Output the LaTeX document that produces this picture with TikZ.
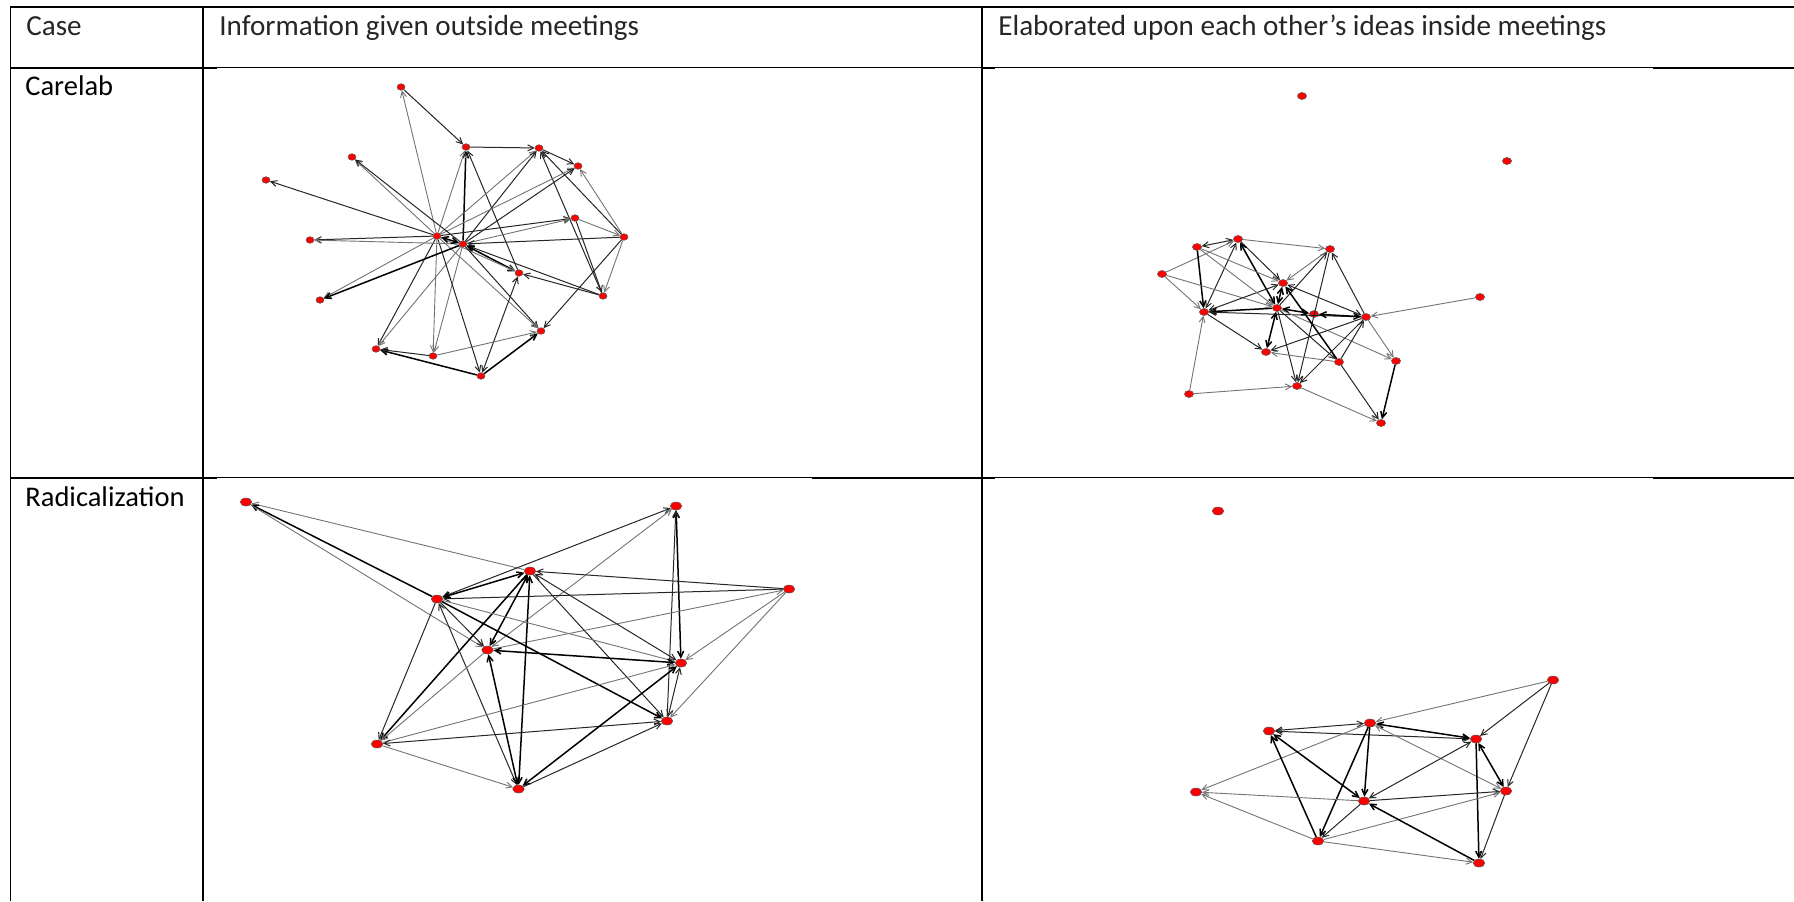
\documentclass[tikz,border=0pt]{standalone}
\usepackage{fontspec}
\setmainfont{Carlito}
\usetikzlibrary{shapes.geometric,arrows.meta}
\tikzset{
  rulethick/.style={line width=1pt,black},
  rulethin/.style={line width=0.5pt,black},
  rulev/.style={line width=0.85pt,black},
  hdr/.style={anchor=base west,inner sep=0pt,text=black!85,font=\fontsize{14.55pt}{17pt}\selectfont},
  rowlab/.style={anchor=base west,inner sep=0pt,text=black,font=\fontsize{14.25pt}{17pt}\selectfont},
  nd/.style={ellipse,fill=red,draw=black!65,line width=0.25pt,inner sep=0pt},
  ndA/.style={nd,minimum width=4pt,minimum height=3.3pt},
  ndB/.style={nd,minimum width=4.6pt,minimum height=3.5pt},
  ndC/.style={nd,minimum width=5.8pt,minimum height=4pt},
  edk/.style={->,draw=black!85,line width=0.5pt},
  edl/.style={->,draw=black!55,line width=0.45pt},
  edh/.style={->,draw=black,line width=0.75pt},
  bi/.style={<->}
}
\begin{document}
\begin{tikzpicture}[x=0.5pt,y=-0.5pt,>={Straight Barb[length=3pt,width=3pt]}]
\useasboundingbox (0,0) rectangle (1794,901);
% ---------- table rules ----------
\draw[rulethick] (10,7) -- (1794,7);
\draw[rulethick] (10,67.5) -- (217,67.5);
\draw[rulethin] (217,67) -- (686,67);
\draw[rulethin] (686,67) -- (982,67);
\draw[rulethick] (982,67.5) -- (995,67.5);
\draw[rulethin] (995,67) -- (1653,67);
\draw[rulethick] (1653,67.5) -- (1794,67.5);
\draw[rulethick] (10,477.5) -- (217,477.5);
\draw[rulethin] (217,477) -- (812,477);
\draw[rulethick] (812,477.5) -- (995,477.5);
\draw[rulethin] (995,477) -- (1653,477);
\draw[rulethick] (1653,477.5) -- (1794,477.5);
\draw[rulev] (10.5,6) -- (10.5,901);
\draw[rulev] (203,6) -- (203,901);
\draw[rulev] (982,6) -- (982,901);
% ---------- texts ----------
\node[hdr] (tcase) at (26,35) {Case};
\node[hdr] (tinfo) at (219,35) {Information given outside meetings};
\node[hdr] (telab) at (998,35) {Elaborated upon each other’s ideas inside meetings};
\node[rowlab] (tcare) at (25,95.5) {Carelab};
\node[rowlab] (trad) at (25,506.5) {Radicalization};
% ---------- panel 1 ----------
\node[ndA] (A) at (401,87) {};
\node[ndA] (B) at (466,147) {};
\node[ndA] (C) at (539,148) {};
\node[ndA] (D) at (578,166) {};
\node[ndA] (E) at (352,157) {};
\node[ndA] (F) at (266,180) {};
\node[ndA] (G) at (575,218) {};
\node[ndA] (H) at (624,237) {};
\node[ndA] (I) at (437,236) {};
\node[ndA] (J) at (463,244) {};
\node[ndA] (K) at (310,240) {};
\node[ndA] (L) at (519,273) {};
\node[ndA] (M) at (603,296) {};
\node[ndA] (N) at (320,300) {};
\node[ndA] (O) at (541,331) {};
\node[ndA] (P) at (376,349) {};
\node[ndA] (Q) at (433,356) {};
\node[ndA] (R) at (481,376) {};
\draw[edk] (A) -- (B);
\draw[edl] (I) -- (A);
\draw[edk] (B) -- (C);
\draw[edh] (J) -- (B);
\draw[edl] (I) -- (B);
\draw[edk] (L) -- (B);
\draw[edk] (C) -- (D);
\draw[edl] (I) -- (C);
\draw[edk] (J) -- (C);
\draw[edk] (H) -- (C);
\draw[edk] (M) -- (C);
\draw[edl] (I) -- (D);
\draw[edk] (J) -- (D);
\draw[edl] (H) -- (D);
\draw[edk] (I) -- (G);
\draw[edl] (J) -- (G);
\draw[edl] (G) -- (H);
\draw[edk] (G) -- (M);
\draw[edk] (H) -- (J);
\draw[edk] (H) -- (O);
\draw[edl] (H) -- (M);
\draw[edk] (M) -- (L);
\draw[edk] (M) -- (J);
\draw[edh,bi] (J) -- (L);
\draw[edl] (I) -- (L);
\draw[edk] (J) -- (O);
\draw[edl] (I) -- (O);
\draw[edk,bi] (L) -- (R);
\draw[edh] (R) -- (O);
\draw[edl] (Q) -- (O);
\draw[edh] (R) -- (P);
\draw[edk] (Q) -- (P);
\draw[edk] (I) -- (P);
\draw[edl] (J) -- (P);
\draw[edl] (I) -- (Q);
\draw[edl] (J) -- (Q);
\draw[edk] (I) -- (R);
\draw[edk] (I) -- (K);
\draw[edl] (J) -- (K);
\draw[edk] (I) -- (F);
\draw[edl] (I) -- (E);
\draw[edk] (J) -- (E);
\draw[edl] (I) -- (N);
\draw[edh] (J) -- (N);
\draw[edh,bi] (I) -- (J);
% ---------- panel 2 ----------
\node[ndB] (a) at (1302,96) {};
\node[ndB] (b) at (1507,161) {};
\node[ndB] (c) at (1238,239) {};
\node[ndB] (d) at (1197,247) {};
\node[ndB] (e) at (1330,249) {};
\node[ndB] (f) at (1162,274) {};
\node[ndB] (g) at (1283,283) {};
\node[ndB] (h) at (1480,297) {};
\node[ndB] (i) at (1204,312) {};
\node[ndB] (j) at (1277,308) {};
\node[ndB] (k) at (1314,314) {};
\node[ndB] (l) at (1366,317) {};
\node[ndB] (m) at (1266,352) {};
\node[ndB] (n) at (1339,362) {};
\node[ndB] (o) at (1396,361) {};
\node[ndB] (p) at (1189,394) {};
\node[ndB] (q) at (1297,386) {};
\node[ndB] (r) at (1381,423) {};
\draw[edk,bi] (c) -- (d);
\draw[edl] (f) -- (c);
\draw[edl] (c) -- (e);
\draw[edk,bi] (c) -- (i);
\draw[edk] (c) -- (g);
\draw[edh,bi] (c) -- (j);
\draw[edl] (d) -- (g);
\draw[edh] (d) -- (i);
\draw[edl] (f) -- (i);
\draw[edl] (f) -- (j);
\draw[edk,bi] (i) -- (g);
\draw[edh] (j) -- (i);
\draw[edk] (l) -- (i);
\draw[edk] (i) -- (m);
\draw[edl] (p) -- (i);
\draw[edl] (p) -- (q);
\draw[edh,bi] (j) -- (g);
\draw[edh,bi] (j) -- (m);
\draw[edk] (j) -- (q);
\draw[edk] (j) -- (e);
\draw[edl] (e) -- (g);
\draw[edk] (e) -- (q);
\draw[edk] (l) -- (e);
\draw[edk,bi] (g) -- (l);
\draw[edh,bi] (j) -- (k);
\draw[edh,bi] (k) -- (l);
\draw[edk] (j) -- (n);
\draw[edl] (j) -- (o);
\draw[edk] (l) -- (m);
\draw[edl] (n) -- (m);
\draw[edk] (l) -- (q);
\draw[edk] (n) -- (l);
\draw[edl] (l) -- (o);
\draw[edl] (h) -- (l);
\draw[edk] (n) -- (r);
\draw[edh] (o) -- (r);
\draw[edl] (q) -- (r);
\draw[edh] (n) -- (g);
\draw[edl] (d) -- (j);
% ---------- panel 3 ----------
\node[ndC] (s1) at (246,502) {};
\node[ndC] (s2) at (676,506) {};
\node[ndC] (s3) at (530,571) {};
\node[ndC] (s4) at (437,599) {};
\node[ndC] (s5) at (789,589) {};
\node[ndC] (s6) at (487.5,650) {};
\node[ndC] (s7) at (681,663) {};
\node[ndC] (s8) at (667,721) {};
\node[ndC] (s9) at (377,744) {};
\node[ndC] (s10) at (518.5,789) {};
\draw[edl] (s3) -- (s1);
\draw[edh] (s4) -- (s1);
\draw[edl] (s1) -- (s6);
\draw[edk,bi] (s4) -- (s2);
\draw[edl,bi] (s6) -- (s2);
\draw[edh,bi] (s7) -- (s2);
\draw[edk] (s8) -- (s2);
\draw[edk] (s5) -- (s3);
\draw[edk] (s5) -- (s4);
\draw[edl] (s6) -- (s5);
\draw[edl] (s5) -- (s7);
\draw[edl] (s5) -- (s8);
\draw[edh,bi] (s3) -- (s4);
\draw[edh,bi] (s3) -- (s6);
\draw[edh] (s3) -- (s9);
\draw[edh,bi] (s3) -- (s10);
\draw[edk,bi] (s3) -- (s7);
\draw[edk] (s3) -- (s8);
\draw[edk] (s4) -- (s6);
\draw[edl] (s4) -- (s7);
\draw[edh] (s4) -- (s8);
\draw[edk] (s4) -- (s9);
\draw[edk,bi] (s4) -- (s10);
\draw[edh,bi] (s6) -- (s7);
\draw[edh,bi] (s6) -- (s10);
\draw[edl] (s6) -- (s9);
\draw[edl] (s9) -- (s7);
\draw[edk,bi] (s9) -- (s8);
\draw[edl] (s9) -- (s10);
\draw[edh,bi] (s10) -- (s7);
\draw[edk] (s10) -- (s8);
\draw[edk,bi] (s8) -- (s7);
% ---------- panel 4 ----------
\node[ndC] (t1) at (1218,511) {};
\node[ndC] (t2) at (1553,680) {};
\node[ndC] (t3) at (1370,723) {};
\node[ndC] (t4) at (1269,731) {};
\node[ndC] (t5) at (1476,739) {};
\node[ndC] (t6) at (1196,792) {};
\node[ndC] (t7) at (1364,801) {};
\node[ndC] (t8) at (1506,791) {};
\node[ndC] (t9) at (1318,841) {};
\node[ndC] (t10) at (1479,863) {};
\draw[edl] (t2) -- (t3);
\draw[edk] (t2) -- (t5);
\draw[edk] (t2) -- (t8);
\draw[edk,bi] (t3) -- (t4);
\draw[edk,bi] (t4) -- (t5);
\draw[edh,bi] (t3) -- (t5);
\draw[edh] (t3) -- (t7);
\draw[edh] (t3) -- (t9);
\draw[edl,bi] (t3) -- (t8);
\draw[edl] (t3) -- (t6);
\draw[edh,bi] (t4) -- (t7);
\draw[edh] (t9) -- (t4);
\draw[edk,bi] (t5) -- (t7);
\draw[edh] (t5) -- (t10);
\draw[edh,bi] (t5) -- (t8);
\draw[edl] (t7) -- (t6);
\draw[edk] (t7) -- (t8);
\draw[edk] (t7) -- (t9);
\draw[edl] (t9) -- (t6);
\draw[edl] (t9) -- (t8);
\draw[edl] (t9) -- (t10);
\draw[edh] (t10) -- (t7);
\draw[edk] (t8) -- (t10);
\end{tikzpicture}
\end{document}
